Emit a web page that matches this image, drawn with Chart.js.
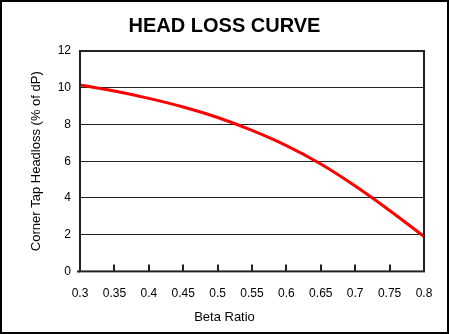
<!DOCTYPE html>
<html>
<head>
<meta charset="utf-8">
<script src="https://cdn.jsdelivr.net/npm/chart.js@4.4.1/dist/chart.umd.min.js"></script>
<style>
  html, body { margin: 0; padding: 0; background: #fff; }
  #wrap { width: 449px; height: 334px; }
</style>
</head>
<body>
<div id="wrap"><canvas id="headLoss"></canvas></div>
<script>
const betaRatio = [0.3, 0.35, 0.4, 0.45, 0.5, 0.55, 0.6, 0.65, 0.7, 0.75, 0.8];
const headloss = [10.15, 9.82, 9.42, 8.95, 8.38, 7.68, 6.85, 5.85, 4.65, 3.32, 1.9];
const yTicks = { min: 0, max: 12, step: 2 };
const xTicks = { min: 0.3, max: 0.8, step: 0.05 };

Chart.defaults.font.family = "'Liberation Sans', Arial, sans-serif";
Chart.defaults.color = "#000";

// white background, outer frame, plot box and inward x tick marks
const frame = {
  id: "frame",
  beforeDraw(chart) {
    const ctx = chart.ctx;
    ctx.save();
    ctx.fillStyle = "#fff";
    ctx.fillRect(0, 0, chart.width, chart.height);
    ctx.restore();
  },
  afterDraw(chart) {
    const ctx = chart.ctx;
    const a = chart.chartArea;
    const xs = chart.scales.x;
    ctx.save();
    ctx.strokeStyle = "#222";
    ctx.lineWidth = 2;
    ctx.strokeRect(a.left, a.top, a.right - a.left, a.bottom - a.top);
    ctx.beginPath();
    xs.ticks.forEach(t => {
      const px = Math.round(xs.getPixelForValue(t.value));
      ctx.moveTo(px, a.bottom);
      ctx.lineTo(px, a.bottom - 7);
    });
    ctx.moveTo(a.left - 3, a.bottom);
    ctx.lineTo(a.left, a.bottom);
    ctx.stroke();
    ctx.strokeStyle = "#000";
    ctx.lineWidth = 2;
    ctx.strokeRect(1, 1, chart.width - 2, chart.height - 2);
    ctx.restore();
  }
};

new Chart(document.getElementById("headLoss"), {
  type: "line",
  data: {
    datasets: [{
      data: betaRatio.map((b, i) => ({ x: b, y: headloss[i] })),
      borderColor: "#ff0000",
      borderWidth: 3,
      pointRadius: 0,
      fill: false,
      cubicInterpolationMode: "monotone"
    }]
  },
  options: {
    responsive: true,
    maintainAspectRatio: false,
    animation: false,
    layout: { padding: 0 },
    plugins: {
      legend: { display: false },
      tooltip: { enabled: false },
      title: {
        display: true,
        text: "HEAD LOSS CURVE",
        font: { size: 20, weight: "bold" },
        color: "#000",
        padding: { top: 14, bottom: 13 }
      },
      subtitle: {
        display: true,
        position: "bottom",
        text: "Beta Ratio",
        font: { size: 13 },
        color: "#000",
        padding: { top: 9, bottom: 9 }
      }
    },
    scales: {
      x: {
        type: "linear",
        min: xTicks.min,
        max: xTicks.max,
        afterFit(scale) { scale.height = 29; },
        grid: { display: false, drawTicks: false },
        border: { display: false },
        ticks: {
          stepSize: xTicks.step,
          padding: 15,
          font: { size: 12 },
          maxRotation: 0,
          autoSkip: false,
          callback: v => String(Number(v.toFixed(2)))
        }
      },
      y: {
        min: yTicks.min,
        max: yTicks.max,
        afterFit(scale) { scale.width = 80; },
        grid: { color: "#222", lineWidth: 1, drawTicks: false },
        border: { display: false },
        ticks: {
          stepSize: yTicks.step,
          padding: 9,
          font: { size: 12 }
        },
        title: {
          display: true,
          text: "Corner Tap Headloss (% of dP)",
          font: { size: 13 },
          color: "#000",
          padding: { top: 29, bottom: 0 }
        }
      },
      yRight: {
        position: "right",
        min: yTicks.min,
        max: yTicks.max,
        afterFit(scale) { scale.width = 25; },
        grid: { display: false, drawTicks: false },
        border: { display: false },
        ticks: { display: false }
      }
    }
  },
  plugins: [frame]
});
</script>
</body>
</html>
